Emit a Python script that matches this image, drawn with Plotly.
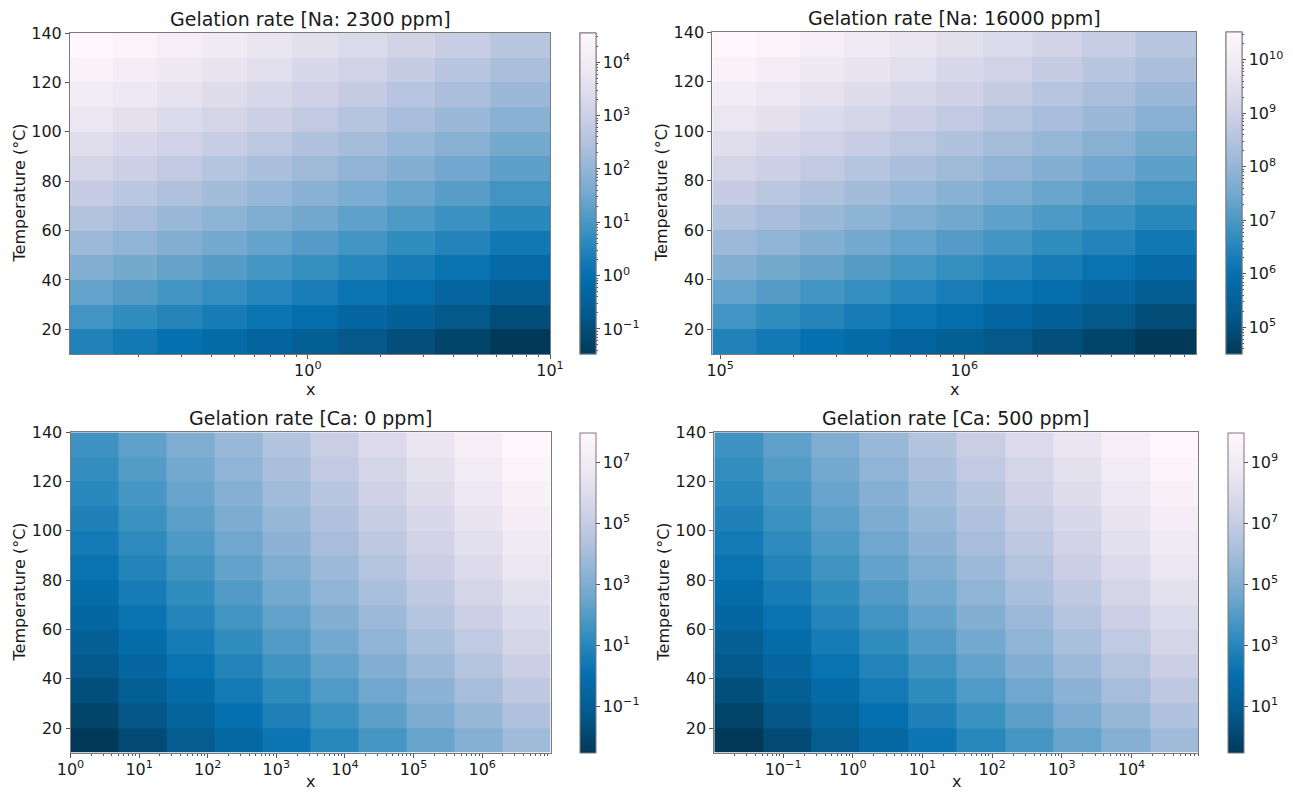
import plotly.graph_objects as go

# ---------------- data ----------------
temperature_edges = [10, 20, 30, 40, 50, 60, 70, 80, 90, 100, 110, 120, 130, 140]

x_edges_na_2300 = [0.1042, 0.1563, 0.2377, 0.3648, 0.5598, 0.8630, 1.337, 2.118, 3.357, 5.636, 10.0]
x_edges_na_16000 = [9.29e4, 1.406e5, 2.128e5, 3.236e5, 4.977e5, 7.674e5, 1.199e6, 1.892e6, 3.034e6, 5.035e6, 8.89e6]
x_edges_ca_0 = [1.0, 5.01, 25.1, 126, 628, 3150, 15700, 78900, 3.94e5, 1.98e6, 9.9e6]
x_edges_ca_500 = [0.0103, 0.0518, 0.256, 1.26, 6.25, 30.9, 153, 755, 3730, 1.845e4, 9.12e4]

# log10(gelation rate); rows from T = 10-20 C (bottom) to 130-140 C (top)
log_rate_na_2300 = [
    [0.45, 0.25, 0.05, -0.15, -0.35, -0.55, -0.76, -0.98, -1.21, -1.47],
    [0.92, 0.72, 0.52, 0.32, 0.12, -0.08, -0.29, -0.51, -0.74, -1.00],
    [1.35, 1.15, 0.95, 0.75, 0.55, 0.35, 0.14, -0.08, -0.31, -0.57],
    [1.76, 1.56, 1.36, 1.16, 0.96, 0.76, 0.55, 0.33, 0.10, -0.16],
    [2.15, 1.95, 1.75, 1.55, 1.35, 1.15, 0.94, 0.72, 0.49, 0.23],
    [2.51, 2.31, 2.11, 1.91, 1.71, 1.51, 1.30, 1.08, 0.85, 0.59],
    [2.85, 2.65, 2.45, 2.25, 2.05, 1.85, 1.64, 1.42, 1.19, 0.93],
    [3.18, 2.98, 2.78, 2.58, 2.38, 2.18, 1.97, 1.75, 1.52, 1.26],
    [3.48, 3.28, 3.08, 2.88, 2.68, 2.48, 2.27, 2.05, 1.82, 1.56],
    [3.77, 3.57, 3.37, 3.17, 2.97, 2.77, 2.56, 2.34, 2.11, 1.85],
    [4.04, 3.84, 3.64, 3.44, 3.24, 3.04, 2.83, 2.61, 2.38, 2.12],
    [4.30, 4.10, 3.90, 3.70, 3.50, 3.30, 3.09, 2.87, 2.64, 2.38],
    [4.55, 4.35, 4.15, 3.95, 3.75, 3.55, 3.34, 3.12, 2.89, 2.63],
]
log_rate_na_16000 = [
    [6.42, 6.22, 6.02, 5.82, 5.62, 5.42, 5.21, 4.99, 4.76, 4.50],
    [6.89, 6.69, 6.49, 6.29, 6.09, 5.89, 5.68, 5.46, 5.23, 4.97],
    [7.32, 7.12, 6.92, 6.72, 6.52, 6.32, 6.11, 5.89, 5.66, 5.40],
    [7.73, 7.53, 7.33, 7.13, 6.93, 6.73, 6.52, 6.30, 6.07, 5.81],
    [8.12, 7.92, 7.72, 7.52, 7.32, 7.12, 6.91, 6.69, 6.46, 6.20],
    [8.48, 8.28, 8.08, 7.88, 7.68, 7.48, 7.27, 7.05, 6.82, 6.56],
    [8.82, 8.62, 8.42, 8.22, 8.02, 7.82, 7.61, 7.39, 7.16, 6.90],
    [9.15, 8.95, 8.75, 8.55, 8.35, 8.15, 7.94, 7.72, 7.49, 7.23],
    [9.45, 9.25, 9.05, 8.85, 8.65, 8.45, 8.24, 8.02, 7.79, 7.53],
    [9.74, 9.54, 9.34, 9.14, 8.94, 8.74, 8.53, 8.31, 8.08, 7.82],
    [10.01, 9.81, 9.61, 9.41, 9.21, 9.01, 8.80, 8.58, 8.35, 8.09],
    [10.27, 10.07, 9.87, 9.67, 9.47, 9.27, 9.06, 8.84, 8.61, 8.35],
    [10.52, 10.32, 10.12, 9.92, 9.72, 9.52, 9.31, 9.09, 8.86, 8.60],
]
log_rate_ca_0 = [
    [-2.52, -1.81, -1.10, -0.39, 0.32, 1.04, 1.75, 2.46, 3.17, 3.88],
    [-2.05, -1.34, -0.63, 0.08, 0.79, 1.51, 2.22, 2.93, 3.64, 4.35],
    [-1.62, -0.91, -0.20, 0.51, 1.22, 1.94, 2.65, 3.36, 4.07, 4.78],
    [-1.21, -0.50, 0.21, 0.92, 1.63, 2.35, 3.06, 3.77, 4.48, 5.19],
    [-0.82, -0.11, 0.60, 1.31, 2.02, 2.74, 3.45, 4.16, 4.87, 5.58],
    [-0.46, 0.25, 0.96, 1.67, 2.38, 3.10, 3.81, 4.52, 5.23, 5.94],
    [-0.12, 0.59, 1.30, 2.01, 2.72, 3.44, 4.15, 4.86, 5.57, 6.28],
    [0.21, 0.92, 1.63, 2.34, 3.05, 3.77, 4.48, 5.19, 5.90, 6.61],
    [0.51, 1.22, 1.93, 2.64, 3.35, 4.07, 4.78, 5.49, 6.20, 6.91],
    [0.80, 1.51, 2.22, 2.93, 3.64, 4.36, 5.07, 5.78, 6.49, 7.20],
    [1.07, 1.78, 2.49, 3.20, 3.91, 4.63, 5.34, 6.05, 6.76, 7.47],
    [1.33, 2.04, 2.75, 3.46, 4.17, 4.89, 5.60, 6.31, 7.02, 7.73],
    [1.58, 2.29, 3.00, 3.71, 4.42, 5.14, 5.85, 6.56, 7.27, 7.98],
]
log_rate_ca_500 = [
    [-0.52, 0.19, 0.90, 1.61, 2.32, 3.04, 3.75, 4.46, 5.17, 5.88],
    [-0.05, 0.66, 1.37, 2.08, 2.79, 3.51, 4.22, 4.93, 5.64, 6.35],
    [0.38, 1.09, 1.80, 2.51, 3.22, 3.94, 4.65, 5.36, 6.07, 6.78],
    [0.79, 1.50, 2.21, 2.92, 3.63, 4.35, 5.06, 5.77, 6.48, 7.19],
    [1.18, 1.89, 2.60, 3.31, 4.02, 4.74, 5.45, 6.16, 6.87, 7.58],
    [1.54, 2.25, 2.96, 3.67, 4.38, 5.10, 5.81, 6.52, 7.23, 7.94],
    [1.88, 2.59, 3.30, 4.01, 4.72, 5.44, 6.15, 6.86, 7.57, 8.28],
    [2.21, 2.92, 3.63, 4.34, 5.05, 5.77, 6.48, 7.19, 7.90, 8.61],
    [2.51, 3.22, 3.93, 4.64, 5.35, 6.07, 6.78, 7.49, 8.20, 8.91],
    [2.80, 3.51, 4.22, 4.93, 5.64, 6.36, 7.07, 7.78, 8.49, 9.20],
    [3.07, 3.78, 4.49, 5.20, 5.91, 6.63, 7.34, 8.05, 8.76, 9.47],
    [3.33, 4.04, 4.75, 5.46, 6.17, 6.89, 7.60, 8.31, 9.02, 9.73],
    [3.58, 4.29, 5.00, 5.71, 6.42, 7.14, 7.85, 8.56, 9.27, 9.98],
]

titles = ["Gelation rate [Na: 2300 ppm]", "Gelation rate [Na: 16000 ppm]",
          "Gelation rate [Ca: 0 ppm]", "Gelation rate [Ca: 500 ppm]"]

x_ticks_na_2300 = [1, 10]
x_ticks_na_16000 = [1e5, 1e6]
x_ticks_ca_0 = [1, 10, 100, 1e3, 1e4, 1e5, 1e6]
x_ticks_ca_500 = [0.1, 1, 10, 100, 1e3, 1e4]

cbar_exponents_na_2300 = [-1, 0, 1, 2, 3, 4]
cbar_exponents_na_16000 = [5, 6, 7, 8, 9, 10]
cbar_exponents_ca_0 = [-1, 1, 3, 5, 7]
cbar_exponents_ca_500 = [1, 3, 5, 7, 9]

y_ticks = [20, 40, 60, 80, 100, 120, 140]

# ---------------- style ----------------
import math

W, H = 1293, 793
FONT = "DejaVu Sans"
TXT = "#1a1a1a"
SPINE = "#7a7a7a"
TICKC = "#555555"

PUBU_R = [[0.0, "#023858"], [0.125, "#045a8d"], [0.25, "#0570b0"], [0.375, "#3690c0"],
          [0.5, "#74a9cf"], [0.625, "#a6bddb"], [0.75, "#d0d1e6"], [0.875, "#ece7f2"],
          [1.0, "#fff7fb"]]


def sup(n):
    s = str(abs(n))
    if n < 0:
        s = "\u2212" + s
    return "10<sup>%s</sup>" % s


panels = [
    dict(title=titles[0], x=x_edges_na_2300, z=log_rate_na_2300, xt=x_ticks_na_2300,
         cb=cbar_exponents_na_2300, box=(70, 550, 33, 354), cbx=579.5, ylx=19, cbminor=True,
         xlab_y=389.5),
    dict(title=titles[1], x=x_edges_na_16000, z=log_rate_na_16000, xt=x_ticks_na_16000,
         cb=cbar_exponents_na_16000, box=(712.3, 1196, 32, 354), cbx=1226, ylx=662, cbminor=True,
         xlab_y=389.5),
    dict(title=titles[2], x=x_edges_ca_0, z=log_rate_ca_0, xt=x_ticks_ca_0,
         cb=cbar_exponents_ca_0, box=(70.5, 550.5, 432.3, 752.7), cbx=579.5, ylx=19, cbminor=False,
         xlab_y=None),
    dict(title=titles[3], x=x_edges_ca_500, z=log_rate_ca_500, xt=x_ticks_ca_500,
         cb=cbar_exponents_ca_500, box=(714.3, 1198.4, 432.3, 752.7), cbx=1228.3, ylx=663, cbminor=False,
         xlab_y=None),
]

fig = go.Figure()
annotations = []
layout = dict(
    width=W, height=H, margin=dict(l=0, r=0, t=0, b=0, pad=0, autoexpand=False),
    paper_bgcolor="white", plot_bgcolor="white",
    font=dict(family=FONT, size=16, color=TXT),
    showlegend=False,
)

for i, p in enumerate(panels, start=1):
    x0, x1, y0, y1 = p["box"]
    xd = [x0 / W, x1 / W]
    yd = [1 - y1 / H, 1 - y0 / H]
    zflat = [v for row in p["z"] for v in row]
    zmin, zmax = min(zflat), max(zflat)
    sfx = "" if i == 1 else str(i)

    cb_common = dict(
        x=p["cbx"] / W, xanchor="left", xpad=0,
        y=(yd[0] + yd[1]) / 2, yanchor="middle", ypad=0,
        len=(y1 - y0) / H, lenmode="fraction",
        thickness=15.5, outlinecolor=SPINE, outlinewidth=1,
    )

    if p["cbminor"]:
        minor_cb = []
        for n in range(math.floor(zmin), math.ceil(zmax) + 1):
            for k in range(2, 10):
                v = n + math.log10(k)
                if zmin <= v <= zmax:
                    minor_cb.append(v)
        # transparent copy whose colour bar only carries the minor ticks
        fig.add_trace(go.Heatmap(
            x=p["x"], y=temperature_edges, z=p["z"],
            xaxis="x" + sfx, yaxis="y" + sfx, opacity=0, hoverinfo="skip",
            colorscale=PUBU_R, zmin=zmin, zmax=zmax,
            colorbar=dict(**cb_common, tickmode="array", tickvals=minor_cb,
                          ticks="outside", ticklen=2, tickcolor=TICKC, tickwidth=1,
                          showticklabels=False),
        ))

    fig.add_trace(go.Heatmap(
        x=p["x"], y=temperature_edges, z=p["z"],
        xaxis="x" + sfx, yaxis="y" + sfx,
        colorscale=PUBU_R, zmin=zmin, zmax=zmax,
        hovertemplate="x=%{x}<br>T=%{y}<br>log10 rate=%{z}<extra></extra>",
        colorbar=dict(**cb_common,
                      tickmode="array", tickvals=p["cb"], ticktext=[sup(e) for e in p["cb"]],
                      ticks="outside", ticklen=3.5, tickcolor=TICKC, tickwidth=1,
                      tickfont=dict(family=FONT, size=16, color=TXT)),
    ))

    lx = math.log10(p["x"][0])
    rx = math.log10(p["x"][-1])
    minor_vals = [k * 10 ** n for n in range(-3, 8) for k in range(2, 10)
                  if lx <= math.log10(k * 10 ** n) <= rx]
    layout["xaxis" + sfx] = dict(
        domain=xd, anchor="y" + sfx, type="log", range=[lx, rx], automargin=False,
        showline=True, mirror=True, linecolor=SPINE, linewidth=1,
        showgrid=False, zeroline=False,
        tickmode="array", tickvals=p["xt"], ticktext=[sup(round(math.log10(v))) for v in p["xt"]],
        ticks="outside", ticklen=4, tickcolor=TICKC, tickwidth=1, ticklabelstandoff=-2,
        tickfont=dict(family=FONT, size=16, color=TXT),
        minor=dict(tickmode="array", tickvals=minor_vals, ticks="outside", ticklen=2,
                   tickcolor=TICKC, tickwidth=1, showgrid=False),
    )
    layout["yaxis" + sfx] = dict(
        domain=yd, anchor="x" + sfx, range=[10, 140], automargin=False,
        showline=True, mirror=True, linecolor=SPINE, linewidth=1,
        showgrid=False, zeroline=False,
        tickmode="array", tickvals=y_ticks, ticktext=[str(v) for v in y_ticks],
        ticks="outside", ticklen=4, tickcolor=TICKC, tickwidth=1,
        tickfont=dict(family=FONT, size=16, color=TXT),
    )

    # panel title
    annotations.append(dict(text=p["title"], xref="paper", yref="paper",
                            x=(x0 + x1) / 2 / W, y=1 - y0 / H, xanchor="center", yanchor="bottom",
                            yshift=1, showarrow=False, font=dict(family=FONT, size=19, color=TXT)))
    # x label
    if p["xlab_y"] is not None:
        annotations.append(dict(text="x", xref="paper", yref="paper",
                                x=(x0 + x1) / 2 / W, y=1 - p["xlab_y"] / H, xanchor="center",
                                yanchor="middle", showarrow=False,
                                font=dict(family=FONT, size=16, color=TXT)))
    else:
        annotations.append(dict(text="x", xref="paper", yref="paper",
                                x=(x0 + x1) / 2 / W, y=0, xanchor="center", yanchor="bottom",
                                showarrow=False, font=dict(family=FONT, size=16, color=TXT)))
    # y label
    annotations.append(dict(text="Temperature (\u00b0C)", xref="paper", yref="paper",
                            x=p["ylx"] / W, y=1 - (y0 + y1) / 2 / H, xanchor="center", yanchor="middle",
                            textangle=-90, showarrow=False, font=dict(family=FONT, size=16, color=TXT)))

layout["annotations"] = annotations
fig.update_layout(**layout)
fig.write_html("out.html")
